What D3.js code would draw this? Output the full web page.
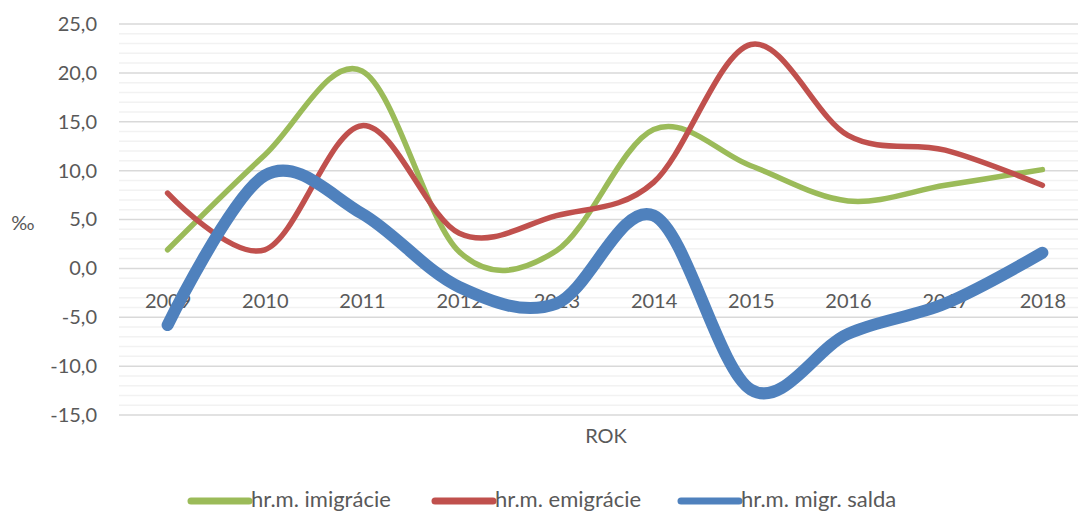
<!DOCTYPE html>
<html>
<head>
<meta charset="utf-8">
<script src="https://cdn.jsdelivr.net/npm/d3@7"></script>
<style>
    body { margin: 0; background: #fff; }
    svg { display: block; font-family: Lato, "Open Sans", sans-serif; }
</style>
</head>
<body>
<svg width="1078" height="513"></svg>
<script>
// chart data
var years = ['2009', '2010', '2011', '2012', '2013', '2014', '2015', '2016', '2017', '2018'];
var imigracie = [1.9, 11.6, 20.2, 1.7, 1.8, 14.2, 10.5, 6.9, 8.5, 10.1];
var emigracie = [7.7, 1.9, 14.6, 3.6, 5.4, 8.8, 22.9, 13.6, 12.1, 8.5];
var salda = [-5.8, 9.5, 5.6, -1.9, -3.6, 5.4, -12.4, -6.7, -3.6, 1.6];
var yTicks = [-15, -10, -5, 0, 5, 10, 15, 20, 25];
var seriesNames = ['hr.m. imigrácie', 'hr.m. emigrácie', 'hr.m. migr. salda'];

var TEXT_COLOR = '#595959';
var MAJOR_GRID = '#d9d9d9';
var MINOR_GRID = '#f2f2f2';

var series = [
    { name: seriesNames[0], values: imigracie, color: '#9bbb59', width: 5.5 },
    { name: seriesNames[1], values: emigracie, color: '#c0504d', width: 5.5 },
    { name: seriesNames[2], values: salda, color: '#4f81bd', width: 12 }
];

// slovak style numbers: decimal comma, plain hyphen for minus
var locale = d3.formatLocale({ decimal: ',', thousands: ' ', grouping: [3], currency: ['', ' €'], minus: '-' });
var fmt = locale.format('.1f');

var svg = d3.select('svg');

var x = d3.scalePoint()
    .domain(years)
    .range([119, 1091])
    .padding(0.5);

var y = d3.scaleLinear()
    .domain([-15, 25])
    .range([415, 24]);

// minor gridlines every 1 unit, then the major ones on top
var minor = d3.range(-15, 25.5, 1).filter(function (v) { return v % 5 !== 0; });
svg.append('g').selectAll('line')
    .data(minor)
    .enter().append('line')
    .attr('x1', 119).attr('x2', 1091)
    .attr('y1', function (d) { return y(d); })
    .attr('y2', function (d) { return y(d); })
    .attr('stroke', MINOR_GRID)
    .attr('stroke-width', 1.5);

svg.append('g').selectAll('line')
    .data(yTicks)
    .enter().append('line')
    .attr('x1', 119).attr('x2', 1091)
    .attr('y1', function (d) { return y(d); })
    .attr('y2', function (d) { return y(d); })
    .attr('stroke', MAJOR_GRID)
    .attr('stroke-width', 1.5);

// y axis labels
var yAxis = d3.axisLeft(y).tickValues(yTicks).tickFormat(fmt).tickSize(0).tickPadding(0);
var gy = svg.append('g').attr('transform', 'translate(97,0)').call(yAxis);
gy.select('.domain').remove();
gy.selectAll('text')
    .attr('fill', TEXT_COLOR)
    .style('font-size', '20px')
    .style('font-family', 'Lato, sans-serif');

// category labels sit just below the zero line
var xAxis = d3.axisBottom(x).tickSize(0).tickPadding(0);
var gx = svg.append('g').attr('transform', 'translate(0,' + (y(0) + 25) + ')').call(xAxis);
gx.select('.domain').remove();
gx.selectAll('text')
    .attr('fill', TEXT_COLOR)
    .style('font-size', '20px')
    .style('font-family', 'Lato, sans-serif');

// lines, smoothed like the office chart (uniform catmull-rom)
var line = d3.line()
    .x(function (d, i) { return x(years[i]); })
    .y(function (d) { return y(d); })
    .curve(d3.curveCatmullRom.alpha(0));

svg.append('g').selectAll('path')
    .data(series)
    .enter().append('path')
    .attr('d', function (d) { return line(d.values); })
    .attr('fill', 'none')
    .attr('stroke', function (d) { return d.color; })
    .attr('stroke-width', function (d) { return d.width; })
    .attr('stroke-linecap', 'round')
    .attr('stroke-linejoin', 'round');

// axis titles
svg.append('text')
    .attr('x', 23).attr('y', 222)
    .attr('text-anchor', 'middle')
    .attr('dominant-baseline', 'central')
    .attr('fill', TEXT_COLOR)
    .style('font-size', '20px')
    .text('‰');

svg.append('text')
    .attr('x', 606).attr('y', 435)
    .attr('text-anchor', 'middle')
    .attr('dominant-baseline', 'central')
    .attr('fill', TEXT_COLOR)
    .style('font-size', '20px')
    .text('ROK');

// legend at the very bottom
var legendX = [191, 435, 681];
var legend = svg.append('g').selectAll('g')
    .data(series)
    .enter().append('g')
    .attr('transform', function (d, i) { return 'translate(' + legendX[i] + ',501)'; });

legend.append('line')
    .attr('x1', 0).attr('x2', 58)
    .attr('stroke', function (d) { return d.color; })
    .attr('stroke-width', 7)
    .attr('stroke-linecap', 'round');

legend.append('text')
    .attr('x', 60)
    .attr('y', 6)
    .attr('fill', TEXT_COLOR)
    .style('font-size', '22px')
    .text(function (d) { return d.name; });
</script>
</body>
</html>
